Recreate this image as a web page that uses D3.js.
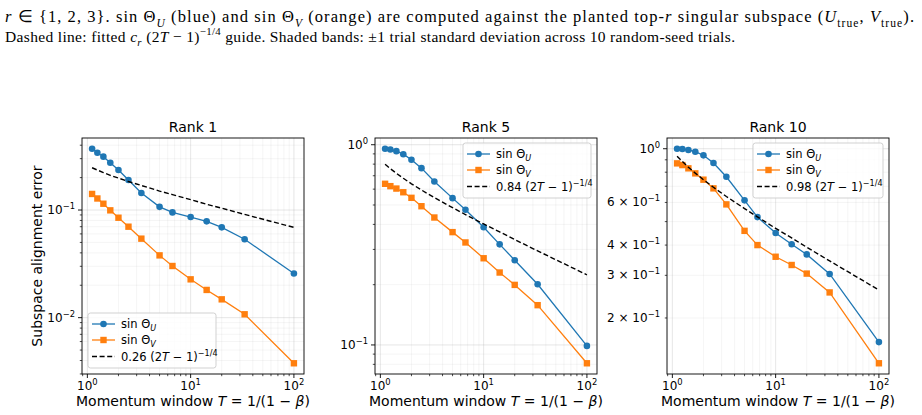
<!DOCTYPE html>
<html>
<head>
<meta charset="utf-8">
<script src="https://cdn.jsdelivr.net/npm/d3@7"></script>
<style>
  body { margin: 0; background: #fff; }
  svg { display: block; }
  text { font-family: "DejaVu Sans", sans-serif; fill: #000; }
  .cap { font-family: "Liberation Serif", "Times New Roman", serif; }
</style>
</head>
<body>
<svg id="chart"></svg>
<script>
// momentum window T = 1/(1-beta)
const T = [1.111, 1.25, 1.429, 1.667, 2, 2.5, 3.333, 5, 6.667, 10, 14.29, 20, 33.33, 100];

// rank 1
const rank1U = [0.371, 0.340, 0.313, 0.275, 0.235, 0.190, 0.144, 0.107, 0.095, 0.086, 0.0785, 0.069, 0.0535, 0.0257];
const rank1V = [0.141, 0.128, 0.1144, 0.0993, 0.0848, 0.070, 0.0542, 0.0379, 0.0302, 0.0227, 0.0181, 0.0148, 0.01075, 0.00377];
const rank1Guide = [0.247, 0.235, 0.223, 0.210, 0.198, 0.184, 0.169, 0.150, 0.139, 0.125, 0.113, 0.104, 0.091, 0.069];

// rank 5
const rank5U = [0.955, 0.947, 0.929, 0.897, 0.841, 0.764, 0.655, 0.541, 0.473, 0.387, 0.318, 0.265, 0.201, 0.0989];
const rank5V = [0.638, 0.621, 0.604, 0.579, 0.543, 0.493, 0.433, 0.366, 0.325, 0.271, 0.230, 0.1995, 0.158, 0.081];
const rank5Guide = [0.799, 0.759, 0.720, 0.680, 0.638, 0.594, 0.544, 0.485, 0.448, 0.402, 0.367, 0.336, 0.295, 0.224];

// rank 10
const rank10U = [1.0, 0.997, 0.988, 0.972, 0.939, 0.873, 0.766, 0.612, 0.522, 0.449, 0.403, 0.366, 0.304, 0.159];
const rank10V = [0.870, 0.856, 0.830, 0.791, 0.745, 0.686, 0.589, 0.458, 0.400, 0.358, 0.331, 0.305, 0.255, 0.130];
const rank10Guide = [0.932, 0.886, 0.839, 0.793, 0.745, 0.693, 0.635, 0.566, 0.523, 0.469, 0.428, 0.392, 0.344, 0.261];

const panelTitles = ["Rank 1", "Rank 5", "Rank 10"];
const guideCoefs = ["0.26", "0.84", "0.98"];
const xLabelTicks = [1, 10, 100];
const yLabelTicks = [[0.01, 0.1], [0.1, 1], [0.2, 0.3, 0.4, 0.6, 1]];

const panels = [
  {title: panelTitles[0], u: rank1U, v: rank1V, g: rank1Guide, coef: guideCoefs[0], yt: yLabelTicks[0], legend: "ll"},
  {title: panelTitles[1], u: rank5U, v: rank5V, g: rank5Guide, coef: guideCoefs[1], yt: yLabelTicks[1], legend: "ur"},
  {title: panelTitles[2], u: rank10U, v: rank10V, g: rank10Guide, coef: guideCoefs[2], yt: yLabelTicks[2], legend: "ur"}
];

const width = 922, height = 415;
const axW = 222, axH = 236, axTop = 138;
const axLefts = [82, 375, 667];
const blue = "#1f77b4", orange = "#ff7f0e";

const svg = d3.select("#chart").attr("width", width).attr("height", height);

// rich text helper: segs = [[text, {i, sub, sup, s}]]
function rich(sel, segs, size) {
  let cur = 0;
  segs.forEach(([t, o]) => {
    o = o || {};
    let target = o.sub ? size * 0.28 : o.sup ? -size * 0.42 : 0;
    let ts = sel.append("tspan").text(t).attr("dy", target - cur);
    cur = target;
    if (o.i) ts.style("font-style", "italic");
    if (o.sub || o.sup) ts.style("font-size", (o.s || 0.7) * size + "px");
  });
  return sel;
}

// caption
let c1 = svg.append("text").attr("class", "cap").attr("x", 5).attr("y", 22)
  .style("font-size", "16.5px").attr("textLength", 909).attr("lengthAdjust", "spacing");
rich(c1, [["r", {i: 1}], [" ∈ {1, 2, 3}.   sin Θ"], ["U", {i: 1, sub: 1}],
  [" (blue) and  sin Θ"], ["V", {i: 1, sub: 1}],
  [" (orange) are computed against the planted top-"], ["r", {i: 1}],
  [" singular subspace ("], ["U", {i: 1}], ["true", {sub: 1}], [", "], ["V", {i: 1}], ["true", {sub: 1}], [")."]], 16.5);
let c2 = svg.append("text").attr("class", "cap").attr("x", 5).attr("y", 42)
  .style("font-size", "15.5px").attr("textLength", 730).attr("lengthAdjust", "spacing");
rich(c2, [["Dashed line: fitted "], ["c", {i: 1}], ["r", {i: 1, sub: 1}], [" (2"], ["T", {i: 1}], [" − 1)"],
  ["−1/4", {sup: 1}], [" guide. Shaded bands: ±1 trial standard deviation across 10 random-seed trials."]], 15.5);

function logDomain(vals) {
  let lo = Math.log10(d3.min(vals)), hi = Math.log10(d3.max(vals));
  let m = (hi - lo) * 0.05;
  return [Math.pow(10, lo - m), Math.pow(10, hi + m)];
}

function allTicks(domain) {
  let out = [];
  for (let k = -4; k <= 3; k++) for (let m = 1; m <= 9; m++) {
    let v = m * Math.pow(10, k);
    if (v >= domain[0] && v <= domain[1]) out.push({v: v, major: m === 1});
  }
  return out;
}

function tickLabel(sel, v, size) {
  let e = Math.floor(Math.log10(v) + 1e-9);
  let m = Math.round(v / Math.pow(10, e));
  let exp = e < 0 ? "−" + (-e) : "" + e;
  rich(sel, [[m === 1 ? "10" : m + " × 10"], [exp, {sup: 1, s: 0.7}]], size);
}

panels.forEach((p, i) => {
  const g = svg.append("g").attr("transform", `translate(${axLefts[i]},${axTop})`);
  const x = d3.scaleLog().domain(logDomain(T)).range([0, axW]);
  const y = d3.scaleLog().domain(logDomain(p.u.concat(p.v, p.g))).range([axH, 0]);
  const xt = allTicks(x.domain()), yt = allTicks(y.domain());

  // grid
  g.selectAll(".gx").data(xt).enter().append("line")
    .attr("x1", d => x(d.v)).attr("x2", d => x(d.v)).attr("y1", 0).attr("y2", axH)
    .attr("stroke", "#b0b0b0").attr("stroke-width", d => d.major ? 0.8 : 0.6)
    .attr("stroke-opacity", d => d.major ? 0.4 : 0.22);
  g.selectAll(".gy").data(yt).enter().append("line")
    .attr("y1", d => y(d.v)).attr("y2", d => y(d.v)).attr("x1", 0).attr("x2", axW)
    .attr("stroke", "#b0b0b0").attr("stroke-width", d => d.major ? 0.8 : 0.6)
    .attr("stroke-opacity", d => d.major ? 0.4 : 0.22);

  // series
  const line = vals => d3.line().x((d, j) => x(T[j])).y(d => y(d))(vals);
  g.append("path").attr("d", line(p.u)).attr("fill", "none").attr("stroke", blue).attr("stroke-width", 1.3);
  g.selectAll(".mu").data(p.u).enter().append("circle")
    .attr("cx", (d, j) => x(T[j])).attr("cy", d => y(d)).attr("r", 3.3).attr("fill", blue);
  g.append("path").attr("d", line(p.v)).attr("fill", "none").attr("stroke", orange).attr("stroke-width", 1.3);
  g.selectAll(".mv").data(p.v).enter().append("rect")
    .attr("x", (d, j) => x(T[j]) - 3.2).attr("y", d => y(d) - 3.2)
    .attr("width", 6.4).attr("height", 6.4).attr("fill", orange);
  g.append("path").attr("d", line(p.g)).attr("fill", "none").attr("stroke", "#000")
    .attr("stroke-width", 1.4).attr("stroke-dasharray", "5,2.6");

  // frame
  g.append("rect").attr("width", axW).attr("height", axH).attr("fill", "none")
    .attr("stroke", "#000").attr("stroke-width", 0.9);

  // ticks
  g.selectAll(".tx").data(xt).enter().append("line")
    .attr("x1", d => x(d.v)).attr("x2", d => x(d.v)).attr("y1", axH).attr("y2", d => axH + (d.major ? 4 : 2.2))
    .attr("stroke", "#000").attr("stroke-width", d => d.major ? 0.9 : 0.7);
  g.selectAll(".ty").data(yt).enter().append("line")
    .attr("y1", d => y(d.v)).attr("y2", d => y(d.v)).attr("x1", 0).attr("x2", d => d.major ? -4 : -2.2)
    .attr("stroke", "#000").attr("stroke-width", d => d.major ? 0.9 : 0.7);

  xLabelTicks.forEach(v => {
    tickLabel(g.append("text").attr("x", x(v)).attr("y", axH + 16).attr("text-anchor", "middle")
      .style("font-size", "12px"), v, 12);
  });
  p.yt.forEach(v => {
    tickLabel(g.append("text").attr("x", -7).attr("y", y(v) + 4).attr("text-anchor", "end")
      .style("font-size", "12px"), v, 12);
  });

  // title and x label
  g.append("text").attr("x", axW / 2).attr("y", -6).attr("text-anchor", "middle")
    .style("font-size", "14px").text(p.title);
  rich(g.append("text").attr("x", axW / 2).attr("y", axH + 32).attr("text-anchor", "middle")
    .style("font-size", "14px"),
    [["Momentum window "], ["T", {i: 1}], [" = 1/(1 − "], ["β", {i: 1}], [")"]], 14);

  if (i === 0) {
    g.append("text").attr("transform", `translate(-40,${axH / 2}) rotate(-90)`)
      .attr("text-anchor", "middle").style("font-size", "14px").text("Subspace alignment error");
  }

  // legend
  const lw = i === 2 ? 130 : 128, lh = 55;
  const lx = p.legend === "ll" ? 6 : axW - lw - 6;
  const ly = p.legend === "ll" ? axH - lh - 6 : 5;
  const lg = g.append("g").attr("transform", `translate(${lx},${ly})`);
  lg.append("rect").attr("width", lw).attr("height", lh).attr("rx", 2.5)
    .attr("fill", "#fff").attr("fill-opacity", 0.8).attr("stroke", "#cccccc").attr("stroke-width", 0.9);
  const rows = [11, 27, 43.5];
  const fs = 11.5;
  // blue
  lg.append("line").attr("x1", 4).attr("x2", 27).attr("y1", rows[0]).attr("y2", rows[0])
    .attr("stroke", blue).attr("stroke-width", 1.3);
  lg.append("circle").attr("cx", 15.5).attr("cy", rows[0]).attr("r", 3.3).attr("fill", blue);
  rich(lg.append("text").attr("x", 33).attr("y", rows[0] + 4).style("font-size", fs + "px"),
    [["sin Θ"], ["U", {i: 1, sub: 1}]], fs);
  // orange
  lg.append("line").attr("x1", 4).attr("x2", 27).attr("y1", rows[1]).attr("y2", rows[1])
    .attr("stroke", orange).attr("stroke-width", 1.3);
  lg.append("rect").attr("x", 12.3).attr("y", rows[1] - 3.2).attr("width", 6.4).attr("height", 6.4).attr("fill", orange);
  rich(lg.append("text").attr("x", 33).attr("y", rows[1] + 4).style("font-size", fs + "px"),
    [["sin Θ"], ["V", {i: 1, sub: 1}]], fs);
  // guide
  lg.append("line").attr("x1", 4).attr("x2", 27).attr("y1", rows[2]).attr("y2", rows[2])
    .attr("stroke", "#000").attr("stroke-width", 1.4).attr("stroke-dasharray", "5,2.6");
  rich(lg.append("text").attr("x", 33).attr("y", rows[2] + 4).style("font-size", fs + "px"),
    [[p.coef + " (2"], ["T", {i: 1}], [" − 1)"], ["−1/4", {sup: 1, s: 0.7}]], fs);
});
</script>
</body>
</html>
